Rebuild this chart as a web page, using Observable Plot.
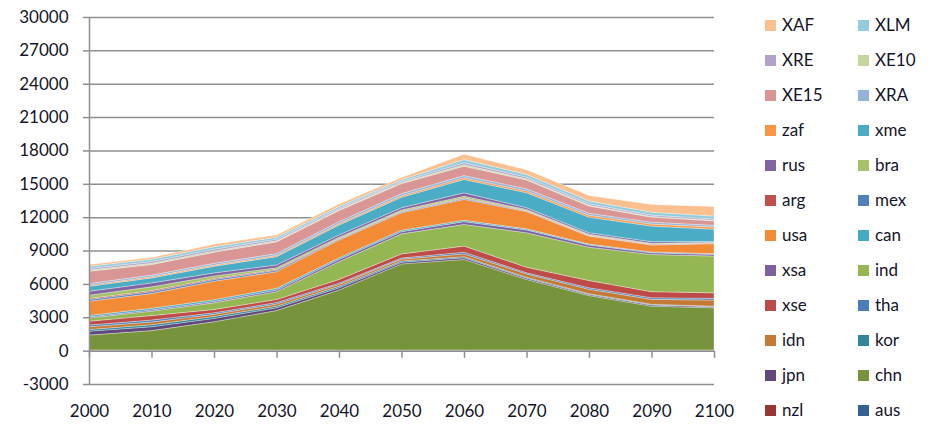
<!DOCTYPE html>
<html><head><meta charset="utf-8">
<script src="https://cdn.jsdelivr.net/npm/d3@7"></script>
<script src="https://cdn.jsdelivr.net/npm/@observablehq/plot@0.6"></script>
<style>
html,body{margin:0;padding:0;background:#fff;width:932px;height:430px;overflow:hidden;font-family:Lato,"Open Sans",sans-serif;}
#wrap{position:relative;width:932px;height:430px;}
#chart{position:absolute;left:0;top:0;}
.item{position:absolute;display:flex;align-items:center;font-size:17px;color:#15152a;height:20px;line-height:20px;}
.sw{width:11px;height:11px;margin-right:6px;}
</style></head><body><div id="wrap"><div id="chart"></div><div id="legend"></div></div>
<script>
const years = [2000, 2010, 2020, 2030, 2040, 2050, 2060, 2070, 2080, 2090, 2100];
const yTicks = [-3000, 0, 3000, 6000, 9000, 12000, 15000, 18000, 21000, 24000, 27000, 30000];

// series, bottom of stack first
const seriesNames = ["aus","nzl","chn","jpn","kor","idn","tha","xse","ind","xsa","can","usa","mex","arg","bra","rus","xme","zaf","XRA","XE15","XE10","XRE","XLM","XAF"];
const seriesColors = ["#376092","#953735","#77933C","#5F497A","#31859C","#C47A35","#4A7EBB","#BE4B48","#95B753","#7D60A0","#46AAC5","#F28A36","#4F81BD","#C0504D","#A6C266","#8064A2","#4BACC6","#F79646","#95B3D7","#D99694","#C3D69B","#B3A2C7","#93CDDD","#FAC090"];

const aus  = [40, 40, 40, 40, 40, 40, 40, 40, 40, 40, 40];
const nzl  = [20, 20, 20, 20, 20, 20, 20, 20, 20, 20, 20];
const chn  = [1340, 1740, 2540, 3540, 5390, 7740, 8140, 6340, 4890, 3940, 3790];
const jpn  = [350, 350, 300, 250, 200, 150, 150, 120, 100, 100, 90];
const kor  = [150, 180, 170, 150, 130, 110, 100, 80, 70, 60, 60];
const idn  = [250, 250, 200, 200, 180, 170, 250, 300, 400, 450, 550];
const tha  = [150, 170, 130, 120, 110, 100, 150, 100, 130, 140, 150];
const xse  = [350, 400, 300, 280, 330, 370, 550, 500, 650, 550, 500];
const ind  = [290, 400, 600, 700, 1600, 1800, 1950, 3100, 3000, 3350, 3300];
const xsa  = [80, 100, 120, 150, 200, 200, 250, 250, 200, 150, 150];
const can  = [150, 160, 160, 150, 140, 130, 120, 100, 80, 70, 70];
const usa  = [1270, 1320, 1660, 1500, 1610, 1570, 1880, 1550, 720, 630, 900];
const mex  = [150, 170, 150, 130, 80, 80, 80, 60, 50, 50, 40];
const arg  = [100, 100, 90, 80, 60, 60, 60, 50, 40, 40, 30];
const bra  = [300, 340, 230, 150, 110, 110, 150, 90, 70, 70, 50];
const rus  = [350, 350, 280, 240, 200, 200, 300, 150, 140, 140, 80];
const xme  = [450, 450, 600, 750, 900, 950, 1200, 1350, 1400, 1400, 1100];
const zaf  = [100, 100, 100, 110, 120, 130, 150, 160, 170, 180, 190];
const XRA  = [150, 150, 160, 170, 180, 190, 200, 190, 180, 170, 160];
const XE15 = [1100, 950, 1000, 1050, 1000, 900, 850, 800, 650, 450, 400];
const XE10 = [100, 110, 110, 100, 90, 90, 120, 100, 80, 70, 60];
const XRE  = [150, 160, 160, 140, 120, 110, 180, 150, 130, 120, 110];
const XLM  = [200, 210, 220, 180, 160, 150, 300, 250, 250, 260, 260];
const XAF  = [150, 160, 230, 200, 220, 200, 460, 420, 480, 700, 850];

const seriesValues = {aus, nzl, chn, jpn, kor, idn, tha, xse, ind, xsa, can, usa, mex, arg, bra, rus, xme, zaf, XRA, XE15, XE10, XRE, XLM, XAF};

const data = seriesNames.flatMap(s => years.map((yr, i) => ({series: s, year: yr, value: seriesValues[s][i]})));

const grid = "#8f8f8f";
const chart = Plot.plot({
  width: 740, height: 430,
  marginLeft: 89, marginRight: 26, marginTop: 17, marginBottom: 46,
  x: {domain: [2000, 2100], axis: null},
  y: {domain: [-3000, 30000], axis: null},
  color: {domain: seriesNames, range: seriesColors},
  style: {fontFamily: "Lato, 'Open Sans', sans-serif", fontSize: "17px", color: "#15152a", background: "white"},
  marks: [
    Plot.ruleY(yTicks, {stroke: grid, strokeWidth: 1.5}),
    Plot.areaY(data, {x: "year", y: "value", z: "series", fill: "series", order: seriesNames, stroke: "white", strokeOpacity: 0.45, strokeWidth: 0.7}),
    Plot.ruleY([0], {stroke: grid, strokeWidth: 1.5}),
    Plot.ruleX(years, {y1: 0, y2: -650, stroke: grid, strokeWidth: 1.5}),
    Plot.ruleX([2000], {y1: -3000, y2: 30000, stroke: grid, strokeWidth: 1.5}),
    Plot.axisY(yTicks, {label: null, tickSize: 6, tickPadding: 15, tickFormat: d => String(d), stroke: grid, strokeWidth: 1.5, fill: "#15152a", fontSize: 17}),
    Plot.axisX(years, {label: null, tickSize: 0, tickPadding: 20, tickFormat: d => String(d), fill: "#15152a", fontSize: 17})
  ]
});
document.getElementById("chart").appendChild(chart);

const legend = document.getElementById("legend");
const legendNames = seriesNames.slice().reverse();
legendNames.forEach((name, i) => {
  const row = Math.floor(i / 2), col = i % 2;
  const el = document.createElement("div");
  el.className = "item";
  el.style.left = (col === 0 ? 765 : 858) + "px";
  el.style.top = (15 + row * 35) + "px";
  const sw = document.createElement("span");
  sw.className = "sw";
  sw.style.background = seriesColors[seriesNames.indexOf(name)];
  const tx = document.createElement("span");
  tx.textContent = name;
  el.appendChild(sw); el.appendChild(tx);
  legend.appendChild(el);
});
</script></body></html>
